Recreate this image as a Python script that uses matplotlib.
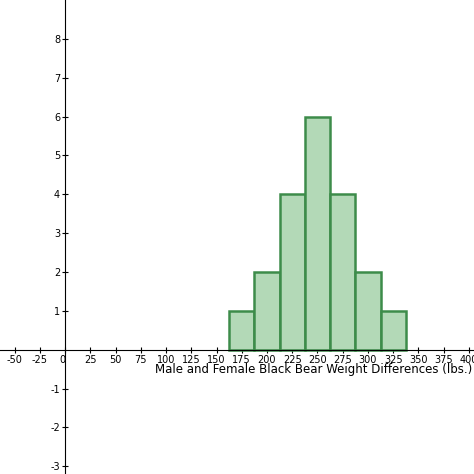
import matplotlib
matplotlib.use("Agg")
import matplotlib.pyplot as plt

bin_centers = [175, 200, 225, 250, 275, 300, 325]
counts = [1, 2, 4, 6, 4, 2, 1]
x_ticks = [-50, -25, 0, 25, 50, 75, 100, 125, 150, 175, 200, 225, 250, 275, 300, 325, 350, 375, 400]
y_ticks = [-3, -2, -1, 1, 2, 3, 4, 5, 6, 7, 8]
x_label = "Male and Female Black Bear Weight Differences (lbs.)"

fig = plt.figure(figsize=(4.74, 4.74), dpi=100)
ax = fig.add_axes([0, 0, 1, 1])
ax.set_xlim(-64.4, 405)
ax.set_ylim(-3.2, 9.0)

ax.bar(bin_centers, counts, width=25, color="#b3d9b7", edgecolor="#3d8c4a", linewidth=1.8, zorder=2)

for s in ["top", "right"]:
    ax.spines[s].set_visible(False)
ax.spines["left"].set_position(("data", 0))
ax.spines["bottom"].set_position(("data", 0))
ax.spines["left"].set_zorder(3)

ax.set_xticks(x_ticks)
ax.set_xticklabels([str(v) for v in x_ticks], fontsize=7)
ax.set_yticks(y_ticks)
ax.set_yticklabels([str(v) for v in y_ticks], fontsize=7)
ax.tick_params(axis="x", direction="inout", length=5, pad=1)
ax.tick_params(axis="y", direction="inout", length=5, pad=1)
for lab in ax.get_xticklabels():
    if lab.get_text() == "0":
        lab.set_horizontalalignment("right")

ax.text(403, -0.5, x_label, ha="right", va="center", fontsize=8.5)

fig.savefig("out.png", dpi=100)
